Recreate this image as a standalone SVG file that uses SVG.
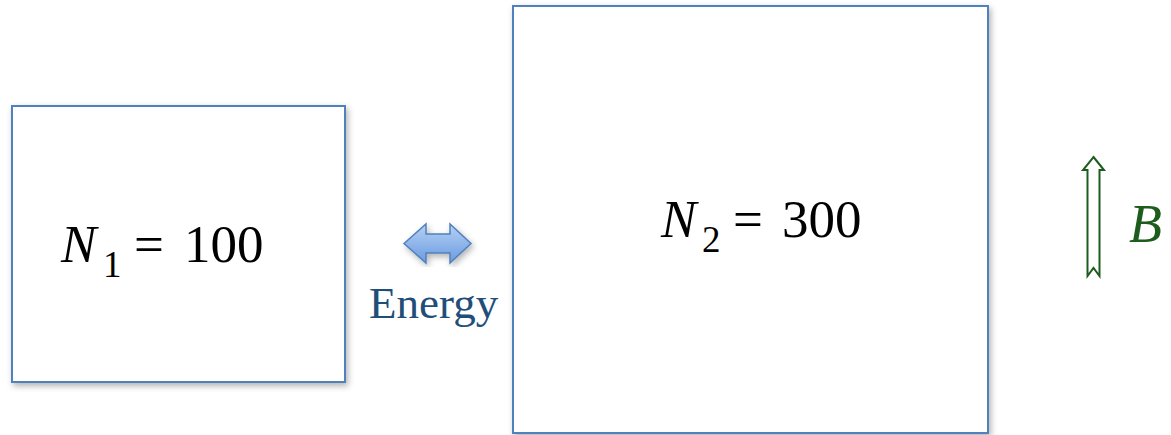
<svg xmlns="http://www.w3.org/2000/svg" width="1171" height="435" viewBox="0 0 1171 435">
<style>
.box{fill:#ffffff;stroke:#4f81bd;stroke-width:2}
.serif{font-family:"Liberation Serif","Times New Roman",serif;fill:#000000}
.energy{font-family:"Liberation Serif","Times New Roman",serif;font-size:45px;fill:#1f4e79}
.bl{font-family:"Liberation Serif","Times New Roman",serif;font-size:54px;font-style:italic;fill:#1e5c1e}
</style>
<defs>
<filter id="sh" x="-10%" y="-10%" width="120%" height="120%">
<feDropShadow dx="2" dy="3" stdDeviation="3" flood-color="#000" flood-opacity="0.3"/>
</filter>
<linearGradient id="bg" x1="0" y1="0" x2="0" y2="1">
<stop offset="0" stop-color="#b5d1f5"/>
<stop offset="1" stop-color="#6b9be0"/>
</linearGradient>
</defs>
<g id="box1">
<rect class="box" x="12" y="106" width="333" height="276" filter="url(#sh)"/>
<text class="serif" x="61" y="262" font-size="53" font-style="italic">N</text>
<text class="serif" x="103" y="277" font-size="37">1</text>
<text class="serif" x="134" y="262" font-size="53">=</text>
<text class="serif" x="184" y="262" font-size="53">100</text>
</g>
<g id="box2">
<rect class="box" x="513" y="6" width="475" height="427" filter="url(#sh)"/>
<text class="serif" x="661" y="237" font-size="53" font-style="italic">N</text>
<text class="serif" x="702" y="252" font-size="37">2</text>
<text class="serif" x="733" y="237" font-size="53">=</text>
<text class="serif" x="782" y="237" font-size="53">300</text>
</g>
<g id="energy">
<path d="M404,243.5 L426,224 L426,234 L450,234 L450,224 L471,243.5 L450,263 L450,253 L426,253 L426,263 Z" fill="url(#bg)" stroke="#4f81bd" stroke-width="1.5" stroke-linejoin="miter" filter="url(#sh)"/>
<text class="energy" x="369" y="318">Energy</text>
</g>
<g id="field">
<path d="M1093.5,157 L1104,170 L1099.5,170 L1099.5,276 L1093.5,268 L1087.5,276 L1087.5,170 L1083,170 Z" fill="#ffffff" stroke="#1e5c1e" stroke-width="2" stroke-linejoin="miter"/>
<text class="bl" x="1129" y="242">B</text>
</g>
</svg>
